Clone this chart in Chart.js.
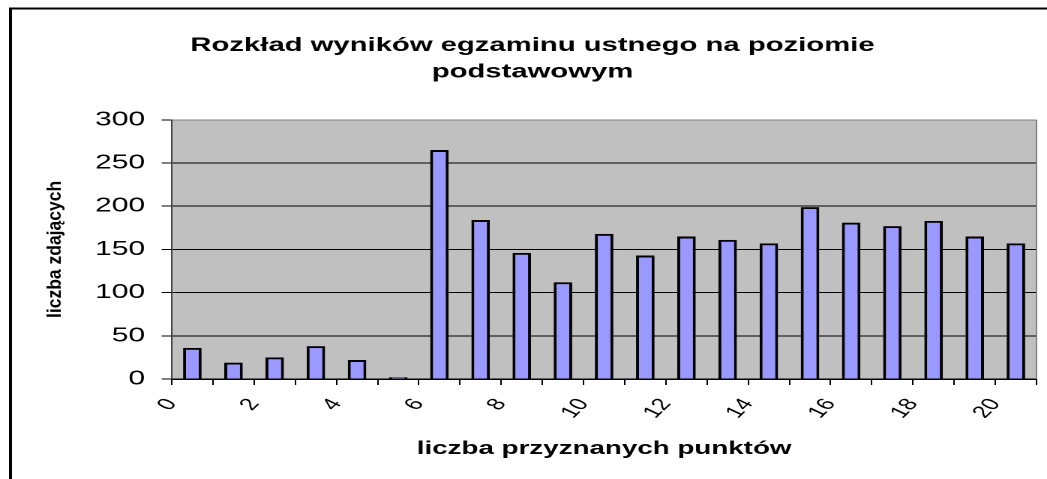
<!DOCTYPE html>
<html>
<head>
<meta charset="utf-8">
<script src="https://cdn.jsdelivr.net/npm/chart.js@4"></script>
<style>
  html, body { margin: 0; padding: 0; background: #fff; }
  #wykres { display: block; }
</style>
</head>
<body>
<!-- obraz jest rozciągnięty w poziomie (1.5x), dlatego logiczna szerokość to 698 -->
<canvas id="wykres" width="698" height="479" style="width:1047px;height:479px"></canvas>
<script>
// punkty (kategorie osi X)
const punkty = [0, 1, 2, 3, 4, 5, 6, 7, 8, 9, 10, 11, 12, 13, 14, 15, 16, 17, 18, 19, 20];
// liczba zdających dla każdej liczby punktów
const liczbaZdajacych = [36, 19, 25, 38, 22, 2, 265, 184, 146, 112, 168, 143, 165, 161, 157, 199, 181, 177, 183, 165, 157];
// etykiety osi
const etykietyX = ['0', '2', '4', '6', '8', '10', '12', '14', '16', '18', '20'];
const etykietyY = [0, 50, 100, 150, 200, 250, 300];

const tytul = ['Rozkład wyników egzaminu ustnego na poziomie', 'podstawowym'];
const tytulX = 'liczba przyznanych punktów';
const tytulY = 'liczba zdających';

const FONT = "'Liberation Sans', Arial, sans-serif";

// tło obszaru wykresu + ramka
const tloPlugin = {
    id: 'tlo',
    beforeDraw(chart) {
        const { ctx, chartArea: a } = chart;
        ctx.save();
        ctx.fillStyle = '#C0C0C0';
        ctx.fillRect(a.left, a.top, a.right - a.left, a.bottom - a.top);
        // ramka całego wykresu (widoczna tylko lewa i górna krawędź)
        ctx.strokeStyle = '#000';
        ctx.lineWidth = 2;
        ctx.beginPath();
        ctx.moveTo(7, chart.height + 5);
        ctx.lineTo(7, 8.5);
        ctx.lineTo(chart.width + 5, 8.5);
        ctx.stroke();
        ctx.restore();
    },
    afterDraw(chart) {
        const { ctx, chartArea: a } = chart;
        ctx.save();
        ctx.strokeStyle = '#808080';
        ctx.lineWidth = 1;
        ctx.beginPath();
        ctx.moveTo(a.right, a.top);
        ctx.lineTo(a.right, a.bottom);
        ctx.stroke();

        // tytuł osi Y - ściśnięty jak w oryginale
        ctx.fillStyle = '#000';
        ctx.font = 'bold 17.5px ' + FONT;
        ctx.textAlign = 'center';
        ctx.textBaseline = 'middle';
        ctx.translate(37, (a.top + a.bottom) / 2);
        ctx.rotate(-Math.PI / 2);
        ctx.scale(1, 0.75);
        ctx.fillText(tytulY, 0, 0);
        ctx.restore();
    }
};

const dane = punkty.map((p, i) => ({ x: p + 0.5, y: liczbaZdajacych[i] }));

const canvas = document.getElementById('wykres');
const chart = new Chart(canvas.getContext('2d'), {
    type: 'bar',
    data: {
        datasets: [{
            label: tytulY,
            data: dane,
            backgroundColor: '#9999FF',
            borderColor: '#000',
            borderWidth: 2,
            categoryPercentage: 0.5,
            barPercentage: 0.9
        }]
    },
    plugins: [tloPlugin],
    options: {
        responsive: false,
        devicePixelRatio: 2,
        animation: false,
        layout: {
            padding: { left: 19, right: 7, top: 0, bottom: 0 }
        },
        plugins: {
            legend: { display: false },
            tooltip: { enabled: false },
            title: {
                display: true,
                text: tytul,
                color: '#000',
                font: { family: FONT, size: 19.5, weight: 'bold', lineHeight: 1.38 },
                padding: { top: 32, bottom: 34 }
            }
        },
        scales: {
            x: {
                type: 'linear',
                min: 0,
                max: punkty.length,
                offset: false,
                afterFit(scale) {
                    scale.height = 100;
                    // ostatnia (pusta) etykieta nie potrzebuje miejsca
                    scale.paddingRight = 0;
                },
                grid: {
                    offset: false,
                    drawOnChartArea: false,
                    drawTicks: true,
                    tickLength: 6,
                    tickColor: '#000'
                },
                border: { display: true, color: '#000', width: 1.5 },
                ticks: {
                    stepSize: 1,
                    autoSkip: false,
                    minRotation: 55,
                    maxRotation: 55,
                    padding: 10,
                    color: '#000',
                    font: { family: FONT, size: 17 },
                    callback: (v) => etykietyX.includes(String(v)) ? String(v) : ''
                },
                title: {
                    display: true,
                    text: tytulX,
                    color: '#000',
                    font: { family: FONT, size: 18.5, weight: 'bold', lineHeight: 1.2 },
                    padding: { top: 0, bottom: 19 }
                }
            },
            y: {
                min: etykietyY[0],
                max: etykietyY[etykietyY.length - 1],
                afterFit(scale) { scale.width = 95.5; },
                grid: {
                    color: (c) => c.tick && c.tick.value === 300 ? '#808080' : '#000',
                    lineWidth: 1,
                    tickLength: 6.7,
                    tickColor: '#000'
                },
                border: { display: true, color: '#404040', width: 1 },
                ticks: {
                    stepSize: 50,
                    padding: 11,
                    color: '#000',
                    font: { family: FONT, size: 20 }
                }
            }
        }
    }
});
// na wszelki wypadek - zostaw rozciągnięcie w poziomie
canvas.style.width = '1047px';
canvas.style.height = '479px';
</script>
</body>
</html>
